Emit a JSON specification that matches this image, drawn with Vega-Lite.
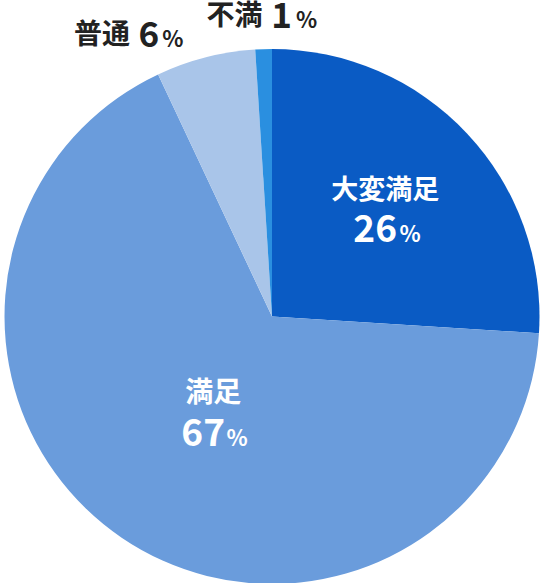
{
  "$schema": "https://vega.github.io/schema/vega-lite/v6.json",
  "width": 544,
  "height": 533,
  "autosize": "none",
  "padding": {"left": 0, "right": 0, "top": 50, "bottom": 0},
  "background": "white",
  "config": {"view": {"stroke": null}, "text": {"font": "Noto Sans CJK JP", "fontWeight": "bold"}},
  "data": {
    "values": [
      {"cat": "大変満足", "value": 26, "ord": 1},
      {"cat": "満足", "value": 67, "ord": 2},
      {"cat": "普通", "value": 6, "ord": 3},
      {"cat": "不満", "value": 1, "ord": 4}
    ]
  },
  "encoding": {
    "theta": {"field": "value", "type": "quantitative", "stack": true},
    "order": {"field": "ord", "type": "quantitative"}
  },
  "layer": [
    {
      "mark": {"type": "arc", "radius": 267.5},
      "encoding": {
        "color": {
          "field": "cat",
          "type": "nominal",
          "legend": null,
          "scale": {
            "domain": ["大変満足", "満足", "普通", "不満"],
            "range": ["#0a5bc4", "#6a9cdc", "#a9c5e9", "#2a8fe0"]
          }
        }
      }
    },
    {
      "mark": {"type": "text", "radius": 158, "dx": -2, "dy": -9, "fontSize": 27, "color": "white", "baseline": "alphabetic"},
      "encoding": {"text": {"condition": {"test": "datum.cat === '大変満足'", "field": "cat"}, "value": ""}}
    },
    {
      "mark": {"type": "text", "radius": 158, "dx": -12, "dy": 34, "fontSize": 37, "color": "white", "baseline": "alphabetic"},
      "encoding": {"text": {"condition": {"test": "datum.cat === '大変満足'", "field": "value", "type": "quantitative"}, "value": ""}}
    },
    {
      "mark": {"type": "text", "radius": 158, "dx": 23, "dy": 34, "fontSize": 22, "color": "white", "baseline": "alphabetic"},
      "encoding": {"text": {"condition": {"test": "datum.cat === '大変満足'", "value": "%"}, "value": ""}}
    },
    {
      "mark": {"type": "text", "radius": 110, "dx": 3, "dy": -5, "fontSize": 28, "color": "white", "baseline": "alphabetic"},
      "encoding": {"text": {"condition": {"test": "datum.cat === '満足'", "field": "cat"}, "value": ""}}
    },
    {
      "mark": {"type": "text", "radius": 110, "dx": -7, "dy": 39, "fontSize": 37, "color": "white", "baseline": "alphabetic"},
      "encoding": {"text": {"condition": {"test": "datum.cat === '満足'", "field": "value", "type": "quantitative"}, "value": ""}}
    },
    {
      "mark": {"type": "text", "radius": 110, "dx": 27, "dy": 39, "fontSize": 22, "color": "white", "baseline": "alphabetic"},
      "encoding": {"text": {"condition": {"test": "datum.cat === '満足'", "value": "%"}, "value": ""}}
    },
    {
      "mark": {"type": "text", "radius": 290, "dx": -98, "dy": 8, "fontSize": 28, "color": "#222222", "baseline": "alphabetic"},
      "encoding": {"text": {"condition": {"test": "datum.cat === '普通'", "field": "cat"}, "value": ""}}
    },
    {
      "mark": {"type": "text", "radius": 290, "dx": -51, "dy": 11, "fontSize": 35, "color": "#222222", "baseline": "alphabetic"},
      "encoding": {"text": {"condition": {"test": "datum.cat === '普通'", "field": "value", "type": "quantitative"}, "value": ""}}
    },
    {
      "mark": {"type": "text", "radius": 290, "dx": -27, "dy": 11, "fontSize": 22, "color": "#222222", "baseline": "alphabetic"},
      "encoding": {"text": {"condition": {"test": "datum.cat === '普通'", "value": "%"}, "value": ""}}
    },
    {
      "mark": {"type": "text", "radius": 300, "dx": -28, "dy": 8, "fontSize": 28, "color": "#222222", "baseline": "alphabetic"},
      "encoding": {"text": {"condition": {"test": "datum.cat === '不満'", "field": "cat"}, "value": ""}}
    },
    {
      "mark": {"type": "text", "radius": 300, "dx": 19, "dy": 11, "fontSize": 35, "color": "#222222", "baseline": "alphabetic"},
      "encoding": {"text": {"condition": {"test": "datum.cat === '不満'", "field": "value", "type": "quantitative"}, "value": ""}}
    },
    {
      "mark": {"type": "text", "radius": 300, "dx": 44, "dy": 11, "fontSize": 22, "color": "#222222", "baseline": "alphabetic"},
      "encoding": {"text": {"condition": {"test": "datum.cat === '不満'", "value": "%"}, "value": ""}}
    }
  ]
}
